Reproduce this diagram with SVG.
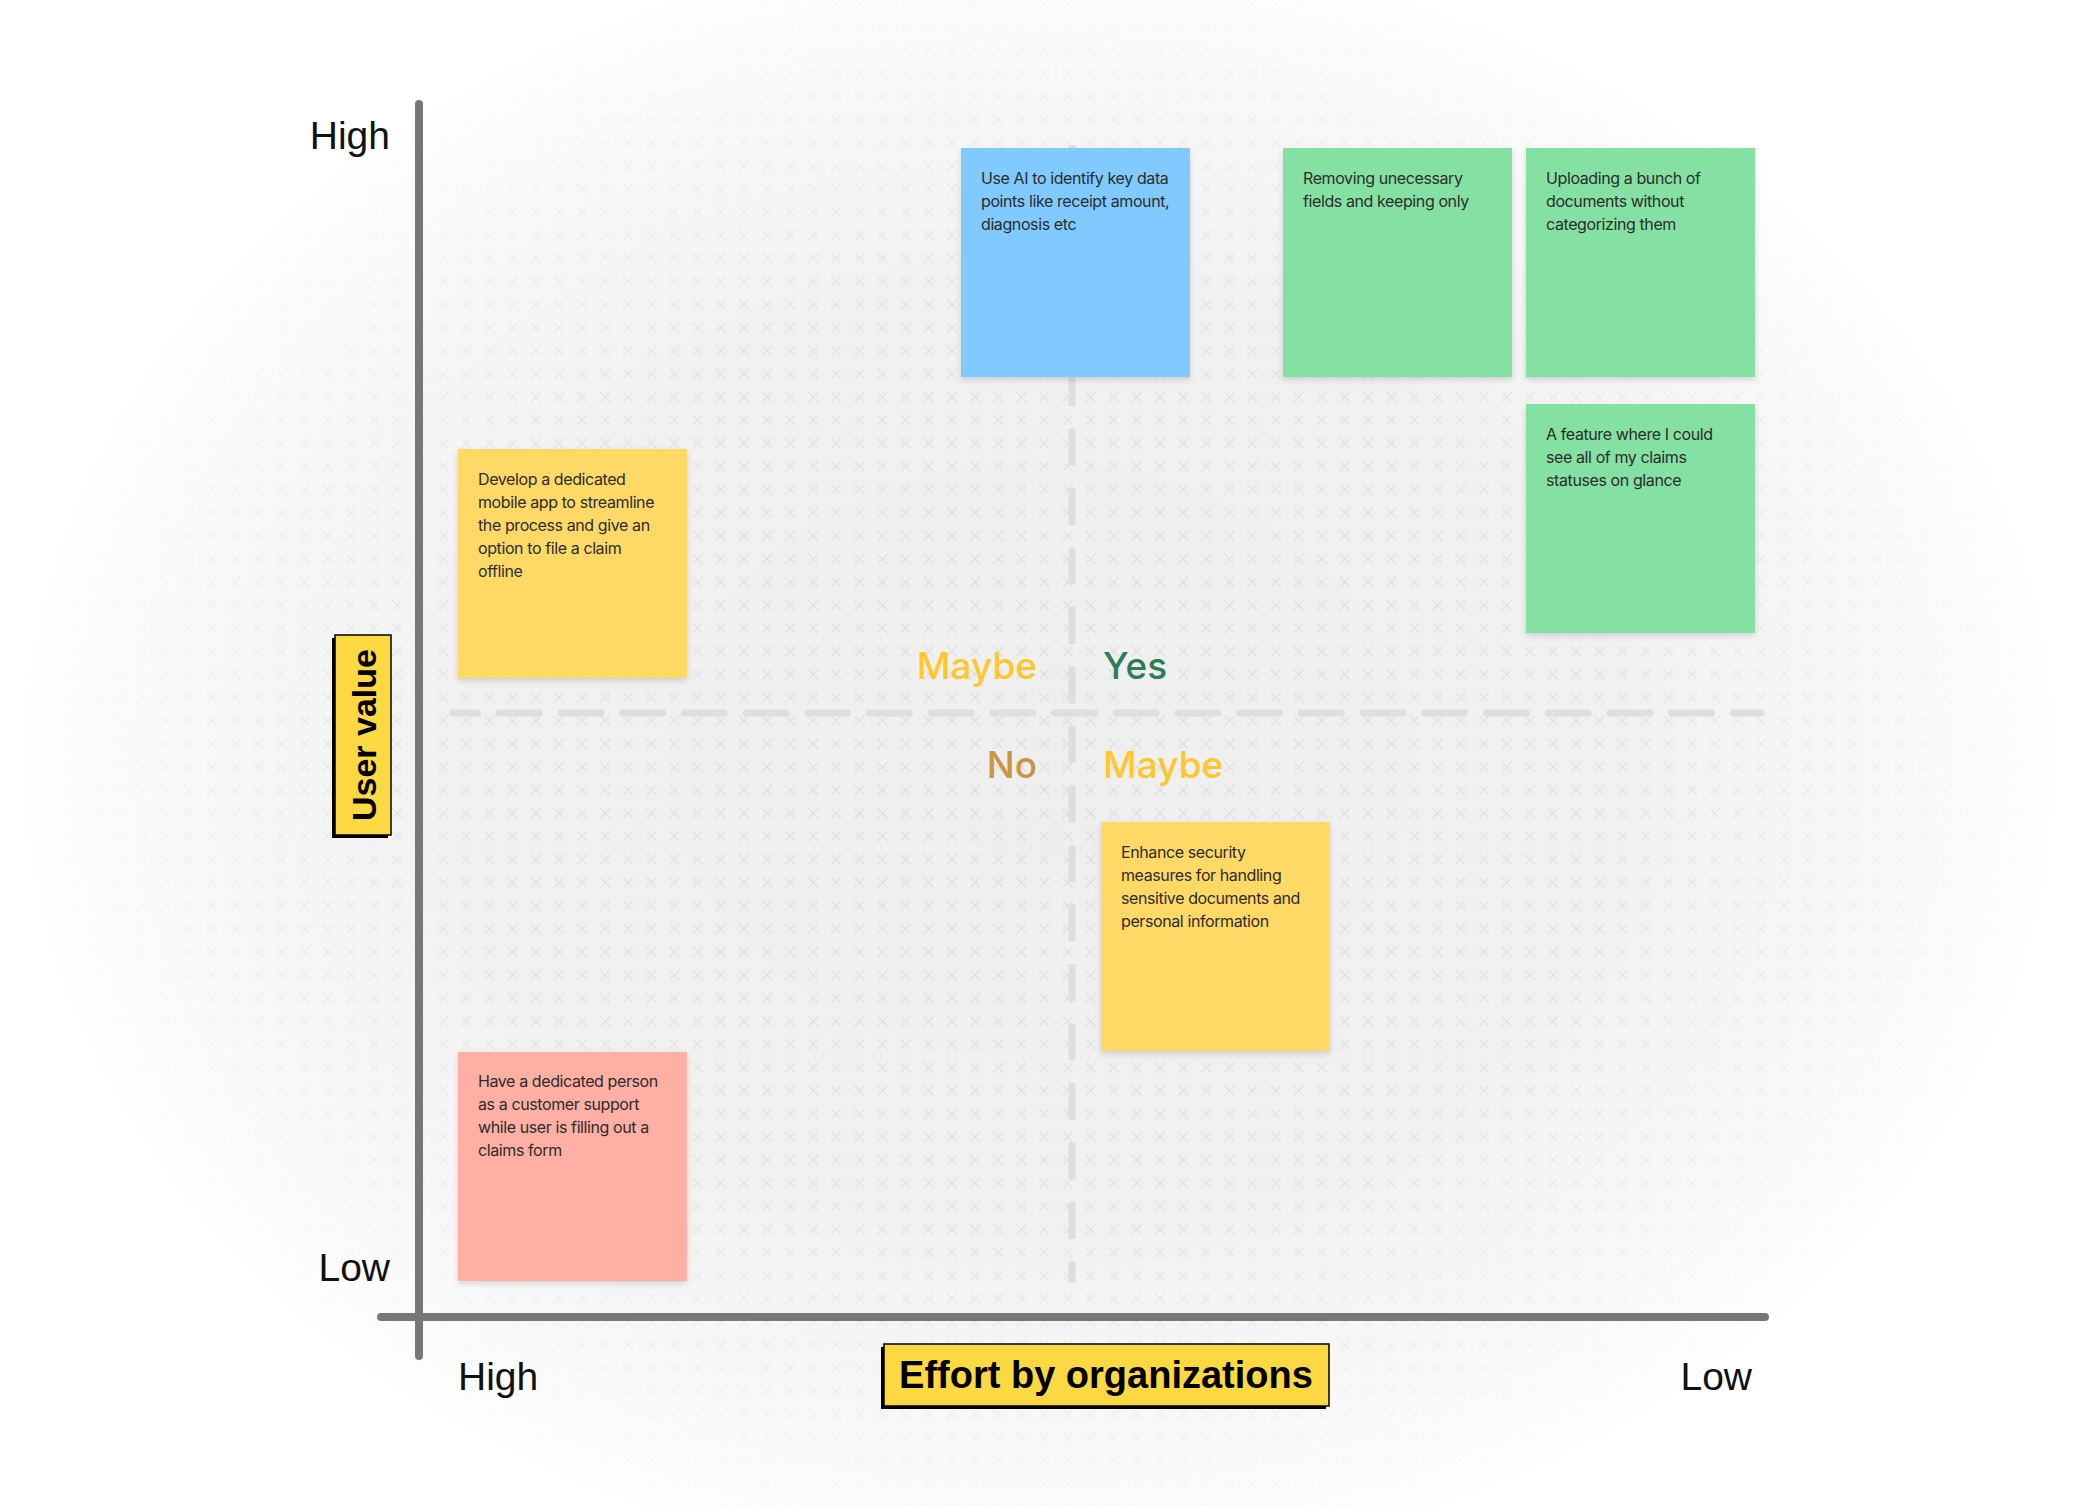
<svg xmlns="http://www.w3.org/2000/svg" width="2080" height="1506" viewBox="0 0 2080 1506">
  <defs>
    <pattern id="grid" patternUnits="userSpaceOnUse" x="-7.56" y="-7.56" width="23.12" height="23.12">
      <path d="M6.56 6.56 L16.56 16.56 M16.56 6.56 L6.56 16.56" stroke="#dcdcdc" stroke-width="1.2" fill="none"/>
    </pattern>
    <radialGradient id="fade" gradientUnits="userSpaceOnUse" cx="1040" cy="760" r="1080" gradientTransform="translate(1040 760) scale(1 0.8) translate(-1040 -760)">
      <stop offset="0" stop-color="#ffffff" stop-opacity="0"/>
      <stop offset="0.55" stop-color="#ffffff" stop-opacity="0.15"/>
      <stop offset="0.8" stop-color="#ffffff" stop-opacity="0.6"/>
      <stop offset="0.95" stop-color="#ffffff" stop-opacity="1"/>
    </radialGradient>
    <filter id="shadow" x="-10%" y="-10%" width="120%" height="130%">
      <feDropShadow dx="0" dy="3" stdDeviation="3" flood-color="#000" flood-opacity="0.14"/>
    </filter>
  </defs>
  <style>
    .note-text { font-family: Inter, "Noto Sans", sans-serif; font-size: 16px; letter-spacing: -0.4px; fill: #2c2c2c; }
    .axis-label { font-family: "Liberation Sans", Arial, sans-serif; font-size: 39px; fill: #111; }
    .title { font-family: "Liberation Sans", Arial, sans-serif; font-weight: bold; fill: #000; }
    .quad { font-family: Inter, "Noto Sans", sans-serif; font-size: 37px; font-weight: 500; }
    .axis { stroke: #777; stroke-width: 8; stroke-linecap: round; fill: none; }
    .dash { stroke: #dedede; stroke-width: 7; fill: none; }
    .badge { fill: #fcd843; stroke: #000; stroke-width: 1.5; }
    .badge-shadow { fill: #000; }
  </style>

  <!-- background -->
  <rect x="0" y="0" width="2080" height="1506" fill="#efefef"/>
  <rect x="0" y="0" width="2080" height="1506" fill="url(#grid)"/>
  <rect x="0" y="0" width="2080" height="1506" fill="url(#fade)"/>

  <!-- connectors / axes / dividers -->
  <g id="connectors">
    <line class="dash" x1="453" y1="713" x2="1761" y2="713" stroke-dasharray="40 21.7" stroke-dashoffset="15.5" stroke-linecap="round"/>
    <line class="dash" x1="1072" y1="145" x2="1072" y2="1283" stroke-dasharray="37 22.5" stroke-dashoffset="14"/>
    <line class="axis" x1="419" y1="104" x2="419" y2="1356"/>
    <line class="axis" x1="381" y1="1317" x2="1765" y2="1317"/>
  </g>

  <!-- axis labels -->
  <g id="label-high-y"><text class="axis-label" x="390" y="149" text-anchor="end">High</text></g>
  <g id="label-low-y"><text class="axis-label" x="390" y="1281" text-anchor="end">Low</text></g>
  <g id="label-high-x"><text class="axis-label" x="458" y="1390">High</text></g>
  <g id="label-low-x"><text class="axis-label" x="1752" y="1390" text-anchor="end">Low</text></g>

  <g id="user-value">
    <rect class="badge-shadow" x="332" y="638" width="56" height="200"/>
    <rect class="badge" x="335" y="635" width="56" height="200"/>
    <text class="title" font-size="34" transform="translate(376 735) rotate(-90)" text-anchor="middle">User value</text>
  </g>

  <g id="effort">
    <rect class="badge-shadow" x="881" y="1347" width="445" height="62"/>
    <rect class="badge" x="884" y="1344" width="445" height="62"/>
    <text class="title" font-size="38" x="1106" y="1388" text-anchor="middle">Effort by organizations</text>
  </g>

  <!-- quadrant labels -->
  <g id="q-maybe-top"><text class="quad" x="1037" y="679" text-anchor="end" fill="#ffc72c">Maybe</text></g>
  <g id="q-yes"><text class="quad" x="1103" y="679" fill="#2e7d57">Yes</text></g>
  <g id="q-no"><text class="quad" x="1037" y="778" text-anchor="end" fill="#cc9340">No</text></g>
  <g id="q-maybe-bottom"><text class="quad" x="1103" y="778" fill="#ffc72c">Maybe</text></g>

  <!-- sticky notes -->
  <g id="note-ai">
    <rect x="961" y="148" width="229" height="229" fill="#80caff" filter="url(#shadow)"/>
    <text class="note-text" x="981" y="184"><tspan x="981">Use AI to identify key data</tspan><tspan x="981" dy="23">points like receipt amount,</tspan><tspan x="981" dy="23">diagnosis etc</tspan></text>
  </g>
  <g id="note-removing">
    <rect x="1283" y="148" width="229" height="229" fill="#85e0a3" filter="url(#shadow)"/>
    <text class="note-text" x="1303" y="184"><tspan x="1303">Removing unecessary</tspan><tspan x="1303" dy="23">fields and keeping only</tspan></text>
  </g>
  <g id="note-uploading">
    <rect x="1526" y="148" width="229" height="229" fill="#85e0a3" filter="url(#shadow)"/>
    <text class="note-text" x="1546" y="184"><tspan x="1546">Uploading a bunch of</tspan><tspan x="1546" dy="23">documents without</tspan><tspan x="1546" dy="23">categorizing them</tspan></text>
  </g>
  <g id="note-feature">
    <rect x="1526" y="404" width="229" height="229" fill="#85e0a3" filter="url(#shadow)"/>
    <text class="note-text" x="1546" y="440"><tspan x="1546">A feature where I could</tspan><tspan x="1546" dy="23">see all of my claims</tspan><tspan x="1546" dy="23">statuses on glance</tspan></text>
  </g>
  <g id="note-mobile">
    <rect x="458" y="449" width="229" height="229" fill="#ffd966" filter="url(#shadow)"/>
    <text class="note-text" x="478" y="485"><tspan x="478">Develop a dedicated</tspan><tspan x="478" dy="23">mobile app to streamline</tspan><tspan x="478" dy="23">the process and give an</tspan><tspan x="478" dy="23">option to file a claim</tspan><tspan x="478" dy="23">offline</tspan></text>
  </g>
  <g id="note-security">
    <rect x="1101" y="822" width="229" height="229" fill="#ffd966" filter="url(#shadow)"/>
    <text class="note-text" x="1121" y="858"><tspan x="1121">Enhance security</tspan><tspan x="1121" dy="23">measures for handling</tspan><tspan x="1121" dy="23">sensitive documents and</tspan><tspan x="1121" dy="23">personal information</tspan></text>
  </g>
  <g id="note-support">
    <rect x="458" y="1052" width="229" height="229" fill="#ffafa3" filter="url(#shadow)"/>
    <text class="note-text" x="478" y="1087"><tspan x="478">Have a dedicated person</tspan><tspan x="478" dy="23">as a customer support</tspan><tspan x="478" dy="23">while user is filling out a</tspan><tspan x="478" dy="23">claims form</tspan></text>
  </g>
</svg>
